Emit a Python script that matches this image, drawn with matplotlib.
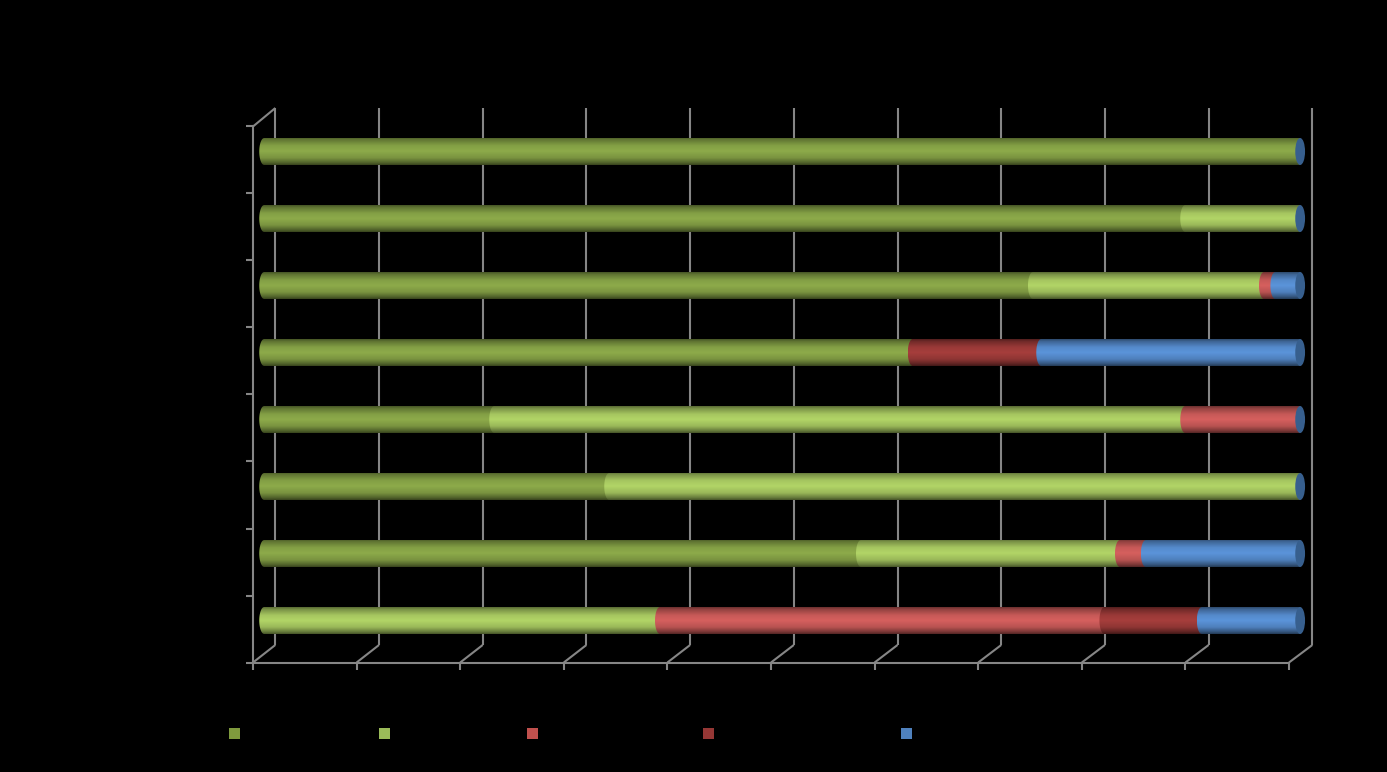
import numpy as np
import matplotlib
matplotlib.use("Agg")
import matplotlib.pyplot as plt
from matplotlib.patches import Ellipse, PathPatch, Rectangle
from matplotlib.path import Path

# shares per row, bottom row first (labels in the original are black on black)
dark_green = [0, 57.6, 33.3, 22.2, 62.6, 74.2, 88.9, 100]
light_green = [38.2, 25.0, 66.7, 66.7, 0, 22.3, 11.1, 0]
red = [42.9, 2.5, 0, 11.1, 0, 1.1, 0, 0]
dark_red = [9.4, 0, 0, 0, 12.4, 0, 0, 0]
blue = [9.5, 14.9, 0, 0, 25.0, 2.4, 0, 0]

series = [dark_green, light_green, red, dark_red, blue]
colors = ["#8dab4a", "#b2d567", "#d6605e", "#a63e3c", "#5b94da"]
legend_colors = ["#7f9a3d", "#9bbb59", "#c0504d", "#953735", "#4f81bd"]
legend_px = [229, 379, 527, 703, 901]
xticks = np.arange(0, 101, 10)

W, H = 1387, 772
GRID = "#868686"
LW = 1.5

fig = plt.figure(figsize=(W / 100, H / 100), dpi=100, facecolor="black")
ax = fig.add_axes([253 / W, (H - 662.5) / H, (1289 - 253) / W, (662.5 - 126.5) / H])
ax.set_facecolor("black")

# depth of the fake 3d box, data units
dx = 22.3 / 10.36
dy = 17.5 / 67
top_dy = 18.5 / 67
bar_dy = 8.5 / 67
bar_h = 27 / 67
cap_w = 4.9 / 10.36

# back wall and floor
for v in xticks:
    bx = v * 1.001 + dx
    ax.plot([bx, bx], [dy, 8 + top_dy], color=GRID, lw=LW, clip_on=False, zorder=1, solid_capstyle="butt")
    ax.plot([v, bx], [0, dy], color=GRID, lw=LW, clip_on=False, zorder=1, solid_capstyle="butt")
ax.plot([0, dx], [8, 8 + top_dy], color=GRID, lw=LW, clip_on=False, zorder=1, solid_capstyle="butt")

ax.set_xlim(0, 100)
ax.set_ylim(0, 8)
ax.set_xticks(xticks)
ax.set_yticks(np.arange(0, 9))
ax.set_xticklabels([])
ax.set_yticklabels([])
ax.tick_params(color=GRID, width=LW, length=5)
for s in ["top", "right"]:
    ax.spines[s].set_visible(False)
for s in ["left", "bottom"]:
    ax.spines[s].set_color(GRID)
    ax.spines[s].set_linewidth(LW)

# cylinder shading, top to bottom
pos = np.linspace(0, 1, 64)
shade = np.interp(pos, [0, 0.08, 0.3, 0.5, 0.75, 0.92, 1], [0.5, 0.68, 0.93, 1, 0.86, 0.58, 0.4])


def draw_segment(left, right, y, color):
    rgb = np.array(matplotlib.colors.to_rgb(color))
    img = (shade[:, None] * rgb)[:, None, :]
    t = np.linspace(np.pi / 2, 3 * np.pi / 2, 24)
    xs = list(left + cap_w * np.cos(t)) + [right, right]
    ys = list(y + bar_h / 2 * np.sin(t)) + [y - bar_h / 2, y + bar_h / 2]
    clip = PathPatch(Path(np.column_stack([xs, ys]), closed=False), transform=ax.transData, fc="none", ec="none")
    ax.add_patch(clip)
    im = ax.imshow(img, extent=[left - cap_w, right + cap_w, y - bar_h / 2, y + bar_h / 2],
                   aspect="auto", zorder=3, interpolation="bilinear")
    im.set_clip_path(clip)
    im.set_clip_box(fig.bbox)


for row in range(8):
    y = row + 0.5 + bar_dy
    start = dx / 2
    for vals, color in zip(series, colors):
        if vals[row] > 0:
            draw_segment(start, start + vals[row], y, color)
            start += vals[row]
    # end cap is always the blue series, even at zero width
    ax.add_patch(Ellipse((100 + dx / 2, y), 2 * cap_w, bar_h, fc="#375f8e", ec="none", zorder=4, clip_on=False))

ax.set_xlim(0, 100)
ax.set_ylim(0, 8)

# legend squares, their labels are invisible in the original
for px, color in zip(legend_px, legend_colors):
    fig.patches.append(Rectangle((px / W, (H - 739) / H), 10.5 / W, 11 / H, transform=fig.transFigure,
                                 fc=color, ec="none", figure=fig))

fig.savefig("out.png", dpi=100)
